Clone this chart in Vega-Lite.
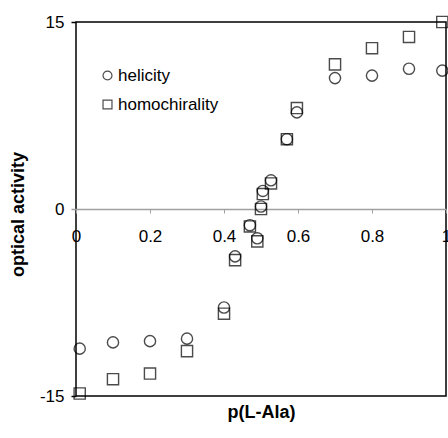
{
  "$schema": "https://vega.github.io/schema/vega-lite/v6.json",
  "width": 370,
  "height": 374,
  "autosize": {"type": "none"},
  "padding": {"left": 76, "top": 22, "right": 2, "bottom": 42},
  "background": "white",
  "config": {
    "view": {"stroke": "black", "strokeWidth": 1.5},
    "font": "Liberation Sans"
  },
  "data": {
    "values": [
      {"p": 0.01, "activity": -11.2, "series": "helicity"},
      {"p": 0.1, "activity": -10.7, "series": "helicity"},
      {"p": 0.2, "activity": -10.6, "series": "helicity"},
      {"p": 0.3, "activity": -10.4, "series": "helicity"},
      {"p": 0.4, "activity": -7.9, "series": "helicity"},
      {"p": 0.43, "activity": -3.8, "series": "helicity"},
      {"p": 0.47, "activity": -1.3, "series": "helicity"},
      {"p": 0.49, "activity": -2.35, "series": "helicity"},
      {"p": 0.5, "activity": 0.2, "series": "helicity"},
      {"p": 0.505, "activity": 1.45, "series": "helicity"},
      {"p": 0.527, "activity": 2.3, "series": "helicity"},
      {"p": 0.57, "activity": 5.6, "series": "helicity"},
      {"p": 0.597, "activity": 7.75, "series": "helicity"},
      {"p": 0.7, "activity": 10.5, "series": "helicity"},
      {"p": 0.8, "activity": 10.7, "series": "helicity"},
      {"p": 0.9, "activity": 11.25, "series": "helicity"},
      {"p": 0.99, "activity": 11.1, "series": "helicity"},
      {"p": 0.01, "activity": -14.8, "series": "homochirality"},
      {"p": 0.1, "activity": -13.65, "series": "homochirality"},
      {"p": 0.2, "activity": -13.2, "series": "homochirality"},
      {"p": 0.3, "activity": -11.4, "series": "homochirality"},
      {"p": 0.4, "activity": -8.4, "series": "homochirality"},
      {"p": 0.43, "activity": -4.1, "series": "homochirality"},
      {"p": 0.47, "activity": -1.4, "series": "homochirality"},
      {"p": 0.49, "activity": -2.6, "series": "homochirality"},
      {"p": 0.5, "activity": 0.0, "series": "homochirality"},
      {"p": 0.505, "activity": 1.2, "series": "homochirality"},
      {"p": 0.527, "activity": 2.05, "series": "homochirality"},
      {"p": 0.57, "activity": 5.6, "series": "homochirality"},
      {"p": 0.597, "activity": 8.1, "series": "homochirality"},
      {"p": 0.7, "activity": 11.6, "series": "homochirality"},
      {"p": 0.8, "activity": 12.9, "series": "homochirality"},
      {"p": 0.9, "activity": 13.8, "series": "homochirality"},
      {"p": 0.99, "activity": 15.0, "series": "homochirality"}
    ]
  },
  "mark": {"type": "point", "filled": false, "stroke": "black", "strokeWidth": 1.4, "size": 125, "clip": false},
  "encoding": {
    "x": {
      "field": "p",
      "type": "quantitative",
      "scale": {"domain": [0, 1], "nice": false, "zero": false},
      "axis": {
        "values": [0, 0.2, 0.4, 0.6, 0.8, 1],
        "labelExpr": "'' + datum.value",
        "offset": -187,
        "grid": false,
        "domainColor": "#a0a0a0",
        "domainWidth": 1.5,
        "tickColor": "#a0a0a0",
        "tickSize": 4,
        "labelPadding": 15,
        "labelFontSize": 17,
        "labelColor": "black",
        "labelFlush": false,
        "labelOverlap": false,
        "title": "p(L-Ala)",
        "titleFontSize": 18,
        "titleFontWeight": "bold",
        "titleColor": "black",
        "titleY": 203,
        "titleBaseline": "middle"
      }
    },
    "y": {
      "field": "activity",
      "type": "quantitative",
      "scale": {"domain": [-15, 15], "nice": false, "zero": false},
      "axis": {
        "values": [-15, 0, 15],
        "labelExpr": "'' + datum.value",
        "grid": false,
        "domain": false,
        "tickColor": {"condition": {"test": "datum.value === 0", "value": "#a0a0a0"}, "value": "black"},
        "tickSize": 5,
        "tickWidth": 1.5,
        "labelPadding": 7,
        "labelFontSize": 17,
        "labelColor": "black",
        "labelFlush": false,
        "title": "optical activity",
        "titleFontSize": 18,
        "titleFontWeight": "bold",
        "titleColor": "black",
        "titleX": -58,
        "titleY": 192,
        "titleAngle": 270,
        "titleAlign": "center",
        "titleBaseline": "middle"
      }
    },
    "shape": {
      "field": "series",
      "type": "nominal",
      "scale": {"domain": ["helicity", "homochirality"], "range": ["circle", "square"]},
      "legend": {
        "title": null,
        "orient": "none",
        "legendX": 23,
        "legendY": 45,
        "padding": 0,
        "symbolSize": 80,
        "symbolStrokeColor": "black",
        "symbolStrokeWidth": 1.2,
        "symbolFillColor": "transparent",
        "labelFontSize": 17,
        "labelColor": "black",
        "labelOffset": 2,
        "rowPadding": 11
      }
    }
  }
}
